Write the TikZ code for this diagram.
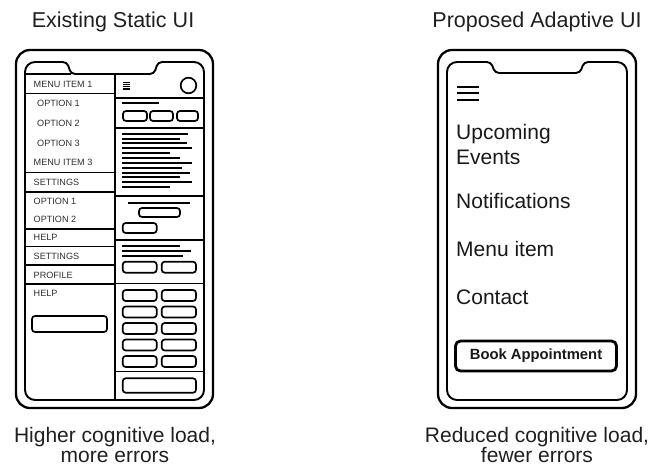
\documentclass[tikz,border=0pt]{standalone}
\usepackage{fontspec}
\setmainfont{Liberation Sans}
\begin{document}
\begin{tikzpicture}[x=1pt,y=-1pt,
  frameout/.style={line width=2.3pt,rounded corners=14pt},
  framein/.style={line width=1.9pt},
  rule/.style={line width=1.5pt},
  txtline/.style={line width=1.7pt},
  pill/.style={line width=1.7pt,rounded corners=3pt},
  title/.style={font=\fontsize{21.5}{24}\selectfont,text=black!88,inner sep=0pt,anchor=base},
  caption/.style={font=\fontsize{21}{20}\selectfont,text=black!88,inner sep=0pt,align=center,anchor=base},
  menulbl/.style={font=\fontsize{9.1}{10}\selectfont,text=black!82,inner sep=0pt,anchor=west},
  biglbl/.style={font=\fontsize{21}{24}\selectfont,text=black!90,inner sep=0pt,anchor=base west}]
\useasboundingbox (0,0) rectangle (655,470);

% ---------- titles and captions ----------
\node[title] (tl) at (113,28) {Existing Static UI};
\node[title] (tr) at (537,28) {Proposed Adaptive UI};
\node[caption] (cl) at (115,442.5) {Higher cognitive load,};
\node[caption] (cl2) at (115,462) {more errors};
\node[caption] (cr) at (537,442.5) {Reduced cognitive load,};
\node[caption] (cr2) at (537,462) {fewer errors};

% ---------- static phone: frame ----------
\draw[frameout] (16,50) rectangle (213,408);
\draw[framein] (115,400) [rounded corners=10pt] -- (25,400) -- (25,62)
  [rounded corners=4pt] -- (67,62) -- (71,74) -- (154,74) -- (158,62)
  [rounded corners=10pt] -- (204,62) -- (204,400) -- cycle;
\draw[rule] (115,74) -- (115,400);

% left menu column
\draw[rule] (25,74) -- (71,74);
\foreach \yy in {93.3,172.7,192,229,246.7,265,284}
  \draw[rule] (25,\yy) -- (115,\yy);
\node[menulbl] (m1) at (33.5,84.3) {MENU ITEM 1};
\node[menulbl] (o1) at (37,103.8) {OPTION 1};
\node[menulbl] (o2) at (37,123.3) {OPTION 2};
\node[menulbl] (o3) at (37,143.7) {OPTION 3};
\node[menulbl] (m3) at (33.5,162.8) {MENU ITEM 3};
\node[menulbl] (s1) at (33.5,182.3) {SETTINGS};
\node[menulbl] (p1) at (33.5,201.2) {OPTION 1};
\node[menulbl] (p2) at (33.5,219) {OPTION 2};
\node[menulbl] (h1) at (33.5,237.7) {HELP};
\node[menulbl] (s2) at (33.5,256.3) {SETTINGS};
\node[menulbl] (pr) at (33.5,275) {PROFILE};
\node[menulbl] (h2) at (33.5,293.7) {HELP};
\draw[pill] (32,316) rectangle (107,332);

% right content column
\foreach \yy in {98,128,196,240,283.5,371.7}
  \draw[rule] (115,\yy) -- (204,\yy);
\foreach \yy in {82.5,84.7,86.9,89.1}
  \draw[line width=1.2pt] (122.5,\yy) -- (130,\yy);
\draw[line width=1.7pt] (188.5,85.5) circle (7.8pt);
\draw[txtline] (122,103) -- (159,103);
\draw[pill] (123,111) rectangle (147,121);
\draw[pill] (150,111) rectangle (173,121);
\draw[pill] (177,111) rectangle (198,121);
\foreach \yy/\xe in {134.3/188,138.7/180,143.3/187,148/192,152.7/170,
                     158.3/180,163.3/192,168/182,172.7/190,177.3/180,182/192,187/170}
  \draw[txtline] (122,\yy) -- (\xe,\yy);
\draw[txtline] (128,202.7) -- (190,202.7);
\draw[pill] (139,208) rectangle (180,217);
\draw[pill] (122.7,223) rectangle (156.7,233);
\draw[txtline] (122,246) -- (180,246);
\draw[txtline] (122,251) -- (191,251);
\draw[txtline] (122,255.7) -- (183,255.7);
\draw[pill] (122.7,261.7) rectangle (156.7,272.7);
\draw[pill] (161.7,261.7) rectangle (196,272.7);
\foreach \yy in {290,306.5,323,339.5,356} {
  \draw[pill] (122.7,\yy) rectangle (156.7,\yy+11);
  \draw[pill] (161.7,\yy) rectangle (196,\yy+11);
}
\draw[pill] (122.7,378.3) rectangle (196,392.7);

% ---------- adaptive phone: frame ----------
\draw[frameout] (438,50) rectangle (636,408);
\draw[framein] (537,400) [rounded corners=10pt] -- (447,400) -- (447,62)
  [rounded corners=4pt] -- (491,62) -- (495,73) -- (580,73) -- (584,62)
  [rounded corners=10pt] -- (627,62) -- (627,400) -- cycle;

\foreach \yy in {86.7,93.3,100}
  \draw[line width=1.9pt] (457,\yy) -- (479,\yy);
\node[biglbl] (up) at (456,140) {Upcoming};
\node[biglbl] (ev) at (456,164.3) {Events};
\node[biglbl] (nt) at (456,208) {Notifications};
\node[biglbl] (mi) at (456,256.7) {Menu item};
\node[biglbl] (ct) at (456,304) {Contact};
\node[draw,line width=2.8pt,rounded corners=5pt,minimum width=161pt,minimum height=30pt,
      inner sep=0pt,font=\fontsize{14.8}{16}\bfseries\selectfont,text=black!90]
      (book) at (536,356) {Book Appointment};
\end{tikzpicture}
\end{document}
